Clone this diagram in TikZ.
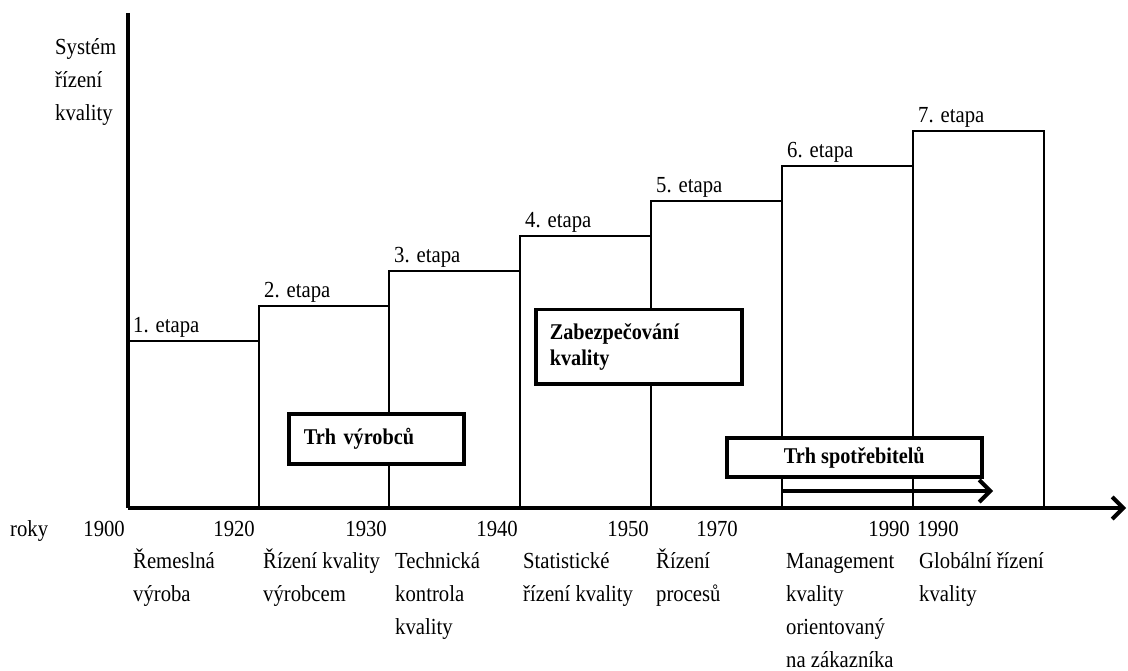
\documentclass[tikz,border=0pt]{standalone}
\usepackage{fontspec}
\setmainfont{Liberation Serif}[FakeStretch=0.9]
\usetikzlibrary{arrows.meta}
% stacked lines whose baseline is that of the first line
\newcommand\mlines[1]{\begin{tabular}[t]{@{}l@{}}#1\end{tabular}}
\begin{document}
\begin{tikzpicture}[x=1pt,y=-1pt,
  axis/.style={line width=4pt, line join=miter},
  stage/.style={line width=2.2pt, line join=miter},
  lbl/.style={inner sep=0pt, anchor=base west,
              font=\fontsize{23}{33}\selectfont},
  yr/.style={inner sep=0pt, anchor=base east, font=\fontsize{23}{33}\selectfont},
  box/.style={draw, line width=3.5pt, fill=white, inner ysep=0pt,
              font=\fontsize{22.5}{26}\selectfont\bfseries},
  barb/.style={-{Straight Barb[length=11pt,width=22pt]}}
]
\useasboundingbox (0,0) rectangle (1128,671);

% axes
\coordinate (O) at (128,508);
\coordinate (Ytop) at (128,13);
\coordinate (Xend) at (1126,508);

% stages as rising steps
\foreach \i/\xl/\xr/\yt in {1/128/259/341, 2/259/389/306, 3/389/520/271,
    4/520/651/236, 5/651/782/201, 6/782/913/166, 7/913/1044/131} {
  \draw[stage] (\xl,508) |- (\xr,\yt) -- (\xr,508);
  \node[lbl] (et\i) at (\xl+5,\yt-8) {\i. etapa};
}

\draw[axis] (Ytop) -- (O);
\draw[axis, barb] (O) -- (Xend);

% axis title
\node[lbl] (ytitle) at (55,55) {\mlines{Systém\\řízení\\kvality}};

% market boxes
\node[box, anchor=north west, text width=145pt, inner xsep=15pt,
      minimum height=50pt, align=left] (vyr) at (287,412) {Trh výrobců};
\node[box, anchor=north west, text width=178pt, inner xsep=14pt,
      minimum height=74pt, align=left] (zab) at (534,308)
      {Zabezpečování\\kvality};
\node[box, anchor=north west, minimum width=255pt, minimum height=39pt,
      align=center] (spo) at (725,436) {Trh spotřebitelů};

% consumer-market arrow
\coordinate (ms) at (783,491);
\coordinate (me) at (993,491);
\draw[line width=4pt, barb] (ms) -- (me);

% years
\node[lbl] (roky) at (10,536) {roky};
\node[yr] (y1900) at (125,536) {1900};
\node[yr] (y1920) at (255,536) {1920};
\node[yr] (y1930) at (387,536) {1930};
\node[yr] (y1940) at (518,536) {1940};
\node[yr] (y1950) at (649,536) {1950};
\node[yr] (y1970) at (738,536) {1970};
\node[yr] (y1990a) at (910,536) {1990};
\node[lbl] (y1990b) at (917,536) {1990};

% stage names
\node[lbl] (n1) at (133,568) {\mlines{Řemeslná\\výroba}};
\node[lbl] (n2) at (263,568) {\mlines{Řízení kvality\\výrobcem}};
\node[lbl] (n3) at (395,568) {\mlines{Technická\\kontrola\\kvality}};
\node[lbl] (n4) at (523,568) {\mlines{Statistické\\řízení kvality}};
\node[lbl] (n5) at (656,568) {\mlines{Řízení\\procesů}};
\node[lbl] (n6) at (786,568) {\mlines{Management\\kvality\\orientovaný\\na zákazníka}};
\node[lbl] (n7) at (919,568) {\mlines{Globální řízení\\kvality}};
\end{tikzpicture}
\end{document}
